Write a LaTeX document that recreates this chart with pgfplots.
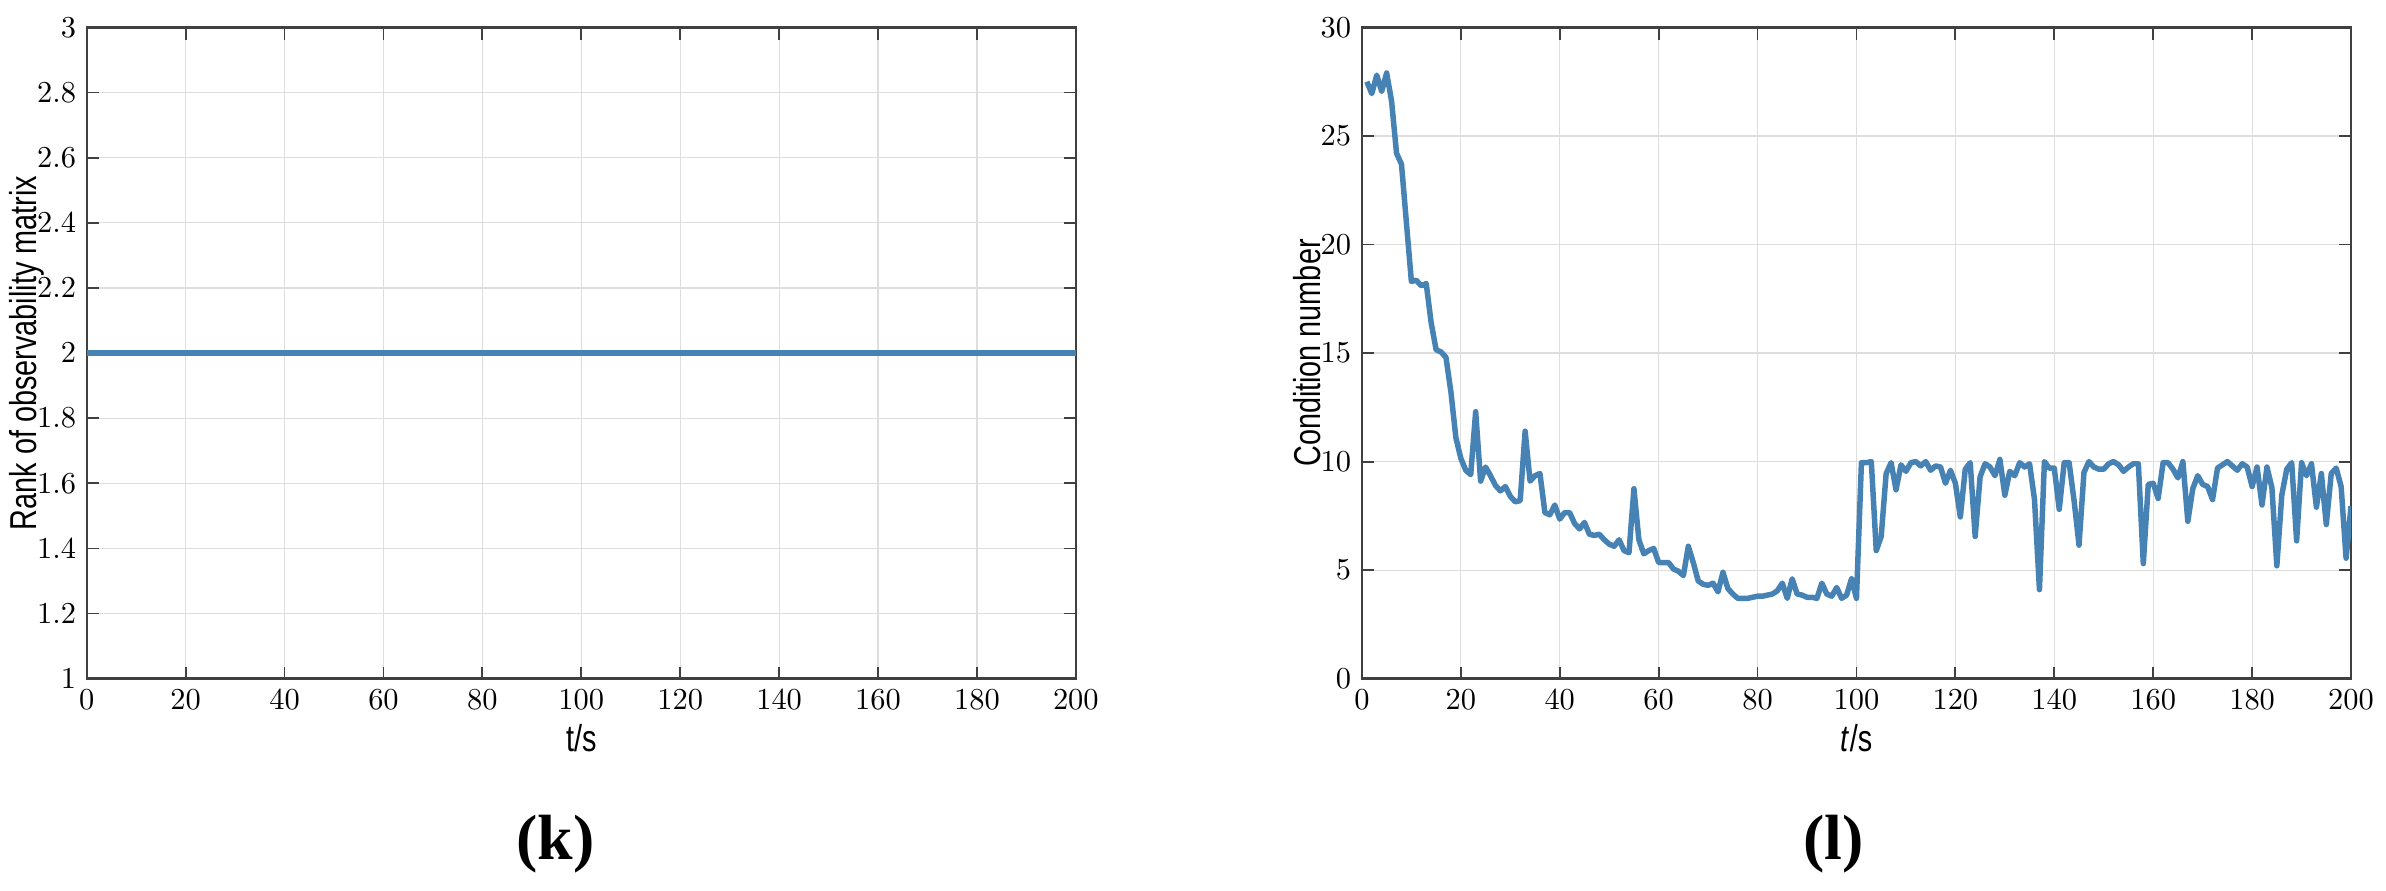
\documentclass[border=0pt]{standalone}
\usepackage{fontspec}
\usepackage{pgfplots}
\pgfplotsset{compat=1.18}
\setsansfont[FakeStretch=0.77]{Liberation Sans}
\newfontfamily\capfont{Liberation Serif}

\definecolor{lineblue}{RGB}{70,130,180}

\pgfplotsset{
  panel/.style={
    scale only axis, width=325pt, height=214pt,
    xmin=0, xmax=200, xtick={0,20,...,200},
    grid=major, grid style={black!13, line width=0.4pt},
    axis line style={black!75, line width=0.8pt},
    major tick length=4pt,
    tick style={black!75, line width=0.6pt},
    tick label style={font=\fontsize{10}{12}\selectfont},
    label style={font=\sffamily\fontsize{12.3}{14}\selectfont},
    xlabel style={at={(axis description cs:0.5,0)}, anchor=center, yshift=-19.5pt},
  }
}

\begin{document}
\begin{tikzpicture}
\path[use as bounding box] (-28.5pt,-69.5pt) rectangle (755.5pt,223pt);

% (k) rank of observability matrix
\begin{axis}[panel, at={(0pt,0pt)}, anchor=origin,
  ymin=1, ymax=3,
  ytick={1,1.2,1.4,1.6,1.8,2,2.2,2.4,2.6,2.8,3},
  xlabel={t/s},
  ylabel={Rank of observability matrix},
  ylabel style={at={(axis description cs:-0.061,0.5)}, anchor=center}]
\addplot[lineblue, line width=2.1pt] coordinates {(0,2) (200,2)};
\end{axis}
\node[font=\capfont\bfseries\fontsize{21}{24}\selectfont] at (154pt,-54.5pt) {(k)};

% (l) condition number
\begin{axis}[panel, at={(419pt,0pt)}, anchor=origin,
  ymin=0, ymax=30, ytick={0,5,...,30},
  xlabel={\textit{t}/s},
  ylabel={Condition number},
  ylabel style={at={(axis description cs:-0.0554,0.5)}, anchor=center}]
\addplot[lineblue, line width=1.8pt, line join=round] coordinates {
(1,27.5) (2,26.95) (3,27.8) (4,27.05) (5,27.9) (6,26.6) (7,24.2) (8,23.7)
(10,18.3) (11,18.35) (12,18.1) (13,18.2) (14,16.4) (15,15.15) (16,15.05) (17,14.8)
(18,13.2) (19,11.1) (20,10.15) (21,9.6) (22,9.4) (23,12.3) (24,9.1) (25,9.75)
(26,9.35) (27,8.9) (28,8.65) (29,8.85) (30,8.4) (31,8.15) (32,8.2) (33,11.4)
(34,9.1) (35,9.35) (36,9.45) (37,7.65) (38,7.55) (39,8.0) (40,7.35) (41,7.65)
(42,7.65) (43,7.15) (44,6.9) (45,7.2) (46,6.65) (47,6.6) (48,6.65) (49,6.4)
(50,6.2) (51,6.1) (52,6.4) (53,5.9) (54,5.8) (55,8.75) (56,6.4) (57,5.75)
(58,5.9) (59,6.0) (60,5.35) (61,5.35) (62,5.35) (63,5.05) (64,4.95) (65,4.75)
(66,6.1) (67,5.35) (68,4.5) (69,4.35) (70,4.3) (71,4.4) (72,4.0) (73,4.9)
(74,4.15) (75,3.9) (76,3.7) (77,3.7) (78,3.7) (79,3.75) (80,3.8) (81,3.8)
(82,3.85) (83,3.9) (84,4.05) (85,4.4) (86,3.7) (87,4.6) (88,3.9) (89,3.85)
(90,3.75) (91,3.75) (92,3.7) (93,4.4) (94,3.9) (95,3.8) (96,4.2) (97,3.7)
(98,3.85) (99,4.6) (100,3.7) (101,9.95) (102,9.95) (103,10.0) (104,5.9) (105,6.55)
(106,9.45) (107,9.95) (108,8.7) (109,9.85) (110,9.55) (111,9.95) (112,10.0) (113,9.8)
(114,10.0) (115,9.6) (116,9.8) (117,9.75) (118,9.0) (119,9.6) (120,9.0) (121,7.45)
(122,9.65) (123,9.95) (124,6.55) (125,9.3) (126,9.9) (127,9.75) (128,9.35) (129,10.1)
(130,8.45) (131,9.55) (132,9.35) (133,9.95) (134,9.75) (135,9.9) (136,8.25) (137,4.1)
(138,10.0) (139,9.7) (140,9.7) (141,7.8) (142,9.95) (143,9.95) (144,8.2) (145,6.15)
(146,9.5) (147,10.0) (148,9.75) (149,9.65) (150,9.65) (151,9.9) (152,10.0) (153,9.85)
(154,9.55) (155,9.75) (156,9.9) (157,9.9) (158,5.3) (159,8.95) (160,9.0) (161,8.3)
(162,9.95) (163,9.95) (164,9.65) (165,9.25) (166,10.0) (167,7.25) (168,8.75) (169,9.35)
(170,8.95) (171,8.85) (172,8.25) (173,9.7) (174,9.85) (175,10.0) (176,9.8) (177,9.6)
(178,9.9) (179,9.75) (180,8.85) (181,9.75) (182,8.0) (183,9.75) (184,8.8) (185,5.2)
(186,8.45) (187,9.65) (188,9.95) (189,6.35) (190,9.95) (191,9.35) (192,9.9) (193,7.9)
(194,9.45) (195,7.1) (196,9.45) (197,9.7) (198,8.85) (199,5.55) (200,7.95)
};
\end{axis}
\node[font=\capfont\bfseries\fontsize{21}{24}\selectfont] at (574pt,-54.5pt) {(l)};
\end{tikzpicture}
\end{document}
